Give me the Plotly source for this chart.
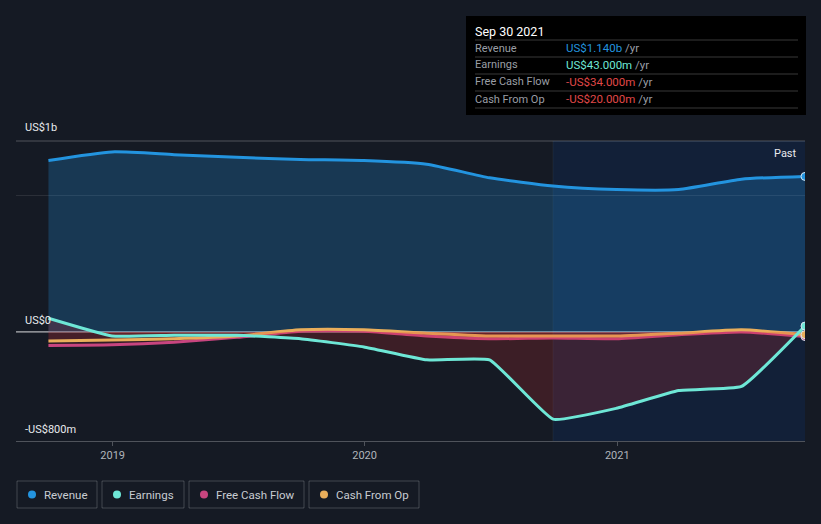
import plotly.graph_objects as go

# ---- data (US$ billions) ----
dates = ["2018-09-30", "2018-12-31", "2019-03-31", "2019-06-30", "2019-09-30",
         "2019-12-31", "2020-03-31", "2020-06-30", "2020-09-30", "2020-12-31",
         "2021-03-31", "2021-06-30", "2021-09-30"]
revenue = [1.257, 1.32, 1.30, 1.28, 1.265, 1.257, 1.23, 1.13, 1.07, 1.044, 1.044, 1.12, 1.14]
earnings = [0.10, -0.03, -0.025, -0.025, -0.05, -0.11, -0.205, -0.205, -0.64, -0.56, -0.43, -0.40, 0.043]
fcf = [-0.10, -0.095, -0.075, -0.04, 0.005, 0.005, -0.03, -0.05, -0.045, -0.05, -0.02, 0.0, -0.034]
cfo = [-0.066, -0.06, -0.05, -0.03, 0.015, 0.015, -0.01, -0.03, -0.03, -0.03, -0.01, 0.015, -0.02]

series_names = ["Revenue", "Earnings", "Free Cash Flow", "Cash From Op"]
colors = ["#2394df", "#6ee7d6", "#c8457f", "#e9ae5b"]
tooltip_title = "Sep 30 2021"
tooltip_values = ["US$1.140b", "US$43.000m", "-US$34.000m", "-US$20.000m"]
tooltip_colors = ["#2394df", "#6ee7d6", "#e04848", "#e04848"]
y_labels = [("US$1b", 128), ("US$0", 320), ("-US$800m", 429)]

W, H = 821, 524
BG = "#151a24"
FONT = "Roboto"
SM = 0.55

def px(x):
    return x / W

def py(y):
    return 1 - y / H

fig = go.Figure()

fig.add_trace(go.Scatter(x=dates, y=revenue, mode="lines", line=dict(color=colors[0], width=3, shape="spline", smoothing=SM),
                         fill="tozeroy", fillcolor="rgba(35,148,223,0.25)", hoverinfo="skip", showlegend=False))
fig.add_trace(go.Scatter(x=dates, y=fcf, mode="lines", line=dict(color=colors[2], width=3, shape="spline", smoothing=SM),
                         fill="tozeroy", fillcolor="rgba(220,50,60,0.15)", hoverinfo="skip", showlegend=False))
fig.add_trace(go.Scatter(x=dates, y=cfo, mode="lines", line=dict(color=colors[3], width=3, shape="spline", smoothing=SM),
                         fill="tozeroy", fillcolor="rgba(220,50,60,0.12)", hoverinfo="skip", showlegend=False))
fig.add_trace(go.Scatter(x=dates, y=earnings, mode="lines", line=dict(color=colors[1], width=3, shape="spline", smoothing=0.35),
                         fill="tozeroy", fillcolor="rgba(220,50,50,0.2)", hoverinfo="skip", showlegend=False))

for vals, c in zip([revenue, earnings, fcf, cfo], colors):
    fig.add_trace(go.Scatter(x=[dates[-1]], y=[vals[-1]], mode="markers",
                             marker=dict(size=8, color=c, line=dict(color="#d8e6f0", width=1)),
                             hoverinfo="skip", showlegend=False))

shapes = []
shapes.append(dict(type="rect", xref="x", yref="paper", x0="2020-09-30", x1="2021-09-30",
                   y0=py(441), y1=py(141), fillcolor="rgba(10,60,140,0.2)", line=dict(width=0), layer="below"))
shapes.append(dict(type="line", xref="x", yref="paper", x0="2020-09-30", x1="2020-09-30",
                   y0=py(441), y1=py(141), line=dict(color="rgba(255,255,255,0.05)", width=1), layer="below"))
shapes.append(dict(type="line", xref="paper", yref="paper", x0=px(16), x1=px(805), y0=py(141), y1=py(141),
                   line=dict(color="rgba(255,255,255,0.25)", width=1), layer="below"))
shapes.append(dict(type="line", xref="paper", yref="y", x0=px(16), x1=px(805), y0=1.0, y1=1.0,
                   line=dict(color="rgba(255,255,255,0.1)", width=1), layer="below"))
shapes.append(dict(type="line", xref="paper", yref="y", x0=px(16), x1=px(805), y0=0, y1=0,
                   line=dict(color="rgba(255,255,255,0.85)", width=1), layer="below"))

shapes.append(dict(type="rect", xref="paper", yref="paper", x0=px(466), x1=px(806), y0=py(115), y1=py(16),
                   fillcolor="#000000", line=dict(width=0)))
for yy in [40, 57, 74, 91, 108]:
    shapes.append(dict(type="line", xref="paper", yref="paper", x0=px(475), x1=px(798), y0=py(yy), y1=py(yy),
                       line=dict(color="rgba(255,255,255,0.22)", width=1)))

legend_boxes = [(17, 97), (102, 184), (189, 304), (309, 419)]
for (x0, x1), c in zip(legend_boxes, colors):
    shapes.append(dict(type="rect", xref="paper", yref="paper", x0=px(x0), x1=px(x1), y0=py(508), y1=py(481),
                       fillcolor="rgba(0,0,0,0)", line=dict(color="rgba(255,255,255,0.2)", width=1)))
    cx = x0 + 15
    shapes.append(dict(type="circle", xref="paper", yref="paper", x0=px(cx - 4), x1=px(cx + 4),
                       y0=py(498.5), y1=py(490.5), fillcolor=c, line=dict(width=0)))

annotations = []
for name, (x0, x1) in zip(series_names, legend_boxes):
    annotations.append(dict(x=px(x0 + 25), y=py(494.5), xref="paper", yref="paper", text=name, showarrow=False,
                            xanchor="left", yanchor="middle", font=dict(family=FONT, size=11.5, color="#c8ccd2")))
for text, yy in y_labels:
    annotations.append(dict(x=px(23), y=py(yy), xref="paper", yref="paper", text=text, showarrow=False,
                            xanchor="left", yanchor="middle", font=dict(family=FONT, size=11, color="#e8eaed")))
annotations.append(dict(x=px(799), y=py(153), xref="paper", yref="paper", text="Past", showarrow=False,
                        xanchor="right", yanchor="middle", font=dict(family=FONT, size=11, color="#e8eaed")))
annotations.append(dict(x=px(473), y=py(31), xref="paper", yref="paper", text=tooltip_title, showarrow=False,
                        xanchor="left", yanchor="middle", font=dict(family=FONT, size=12.5, color="#ffffff")))
for i, (name, val, vc) in enumerate(zip(series_names, tooltip_values, tooltip_colors)):
    yy = 48 + 17 * i
    annotations.append(dict(x=px(473), y=py(yy), xref="paper", yref="paper", text=name, showarrow=False,
                            xanchor="left", yanchor="middle", font=dict(family=FONT, size=11, color="#9a9ea5")))
    annotations.append(dict(x=px(564), y=py(yy), xref="paper", yref="paper",
                            text=f"<span style='color:{vc}'>{val}</span> <span style='color:#9a9ea5'>/yr</span>",
                            showarrow=False, xanchor="left", yanchor="middle", font=dict(family=FONT, size=11.5)))

fig.update_layout(
    width=W, height=H, margin=dict(l=0, r=0, t=0, b=0),
    paper_bgcolor=BG, plot_bgcolor=BG,
    shapes=shapes, annotations=annotations, showlegend=False,
    xaxis=dict(domain=[px(16), px(805)], type="date", range=["2018-08-14", "2021-09-30"],
               tickvals=["2019-01-01", "2020-01-01", "2021-01-01"], ticktext=["2019", "2020", "2021"],
               showgrid=False, zeroline=False, showline=True, linecolor="rgba(255,255,255,0.25)",
               ticks="outside", ticklen=4, tickcolor="rgba(255,255,255,0.25)",
               tickfont=dict(family=FONT, size=11, color="#b0b4ba")),
    yaxis=dict(domain=[py(441), py(141)], range=[-0.8, 1.4], showgrid=False, zeroline=False,
               showticklabels=False, showline=False),
)

fig.write_html("out.html")
